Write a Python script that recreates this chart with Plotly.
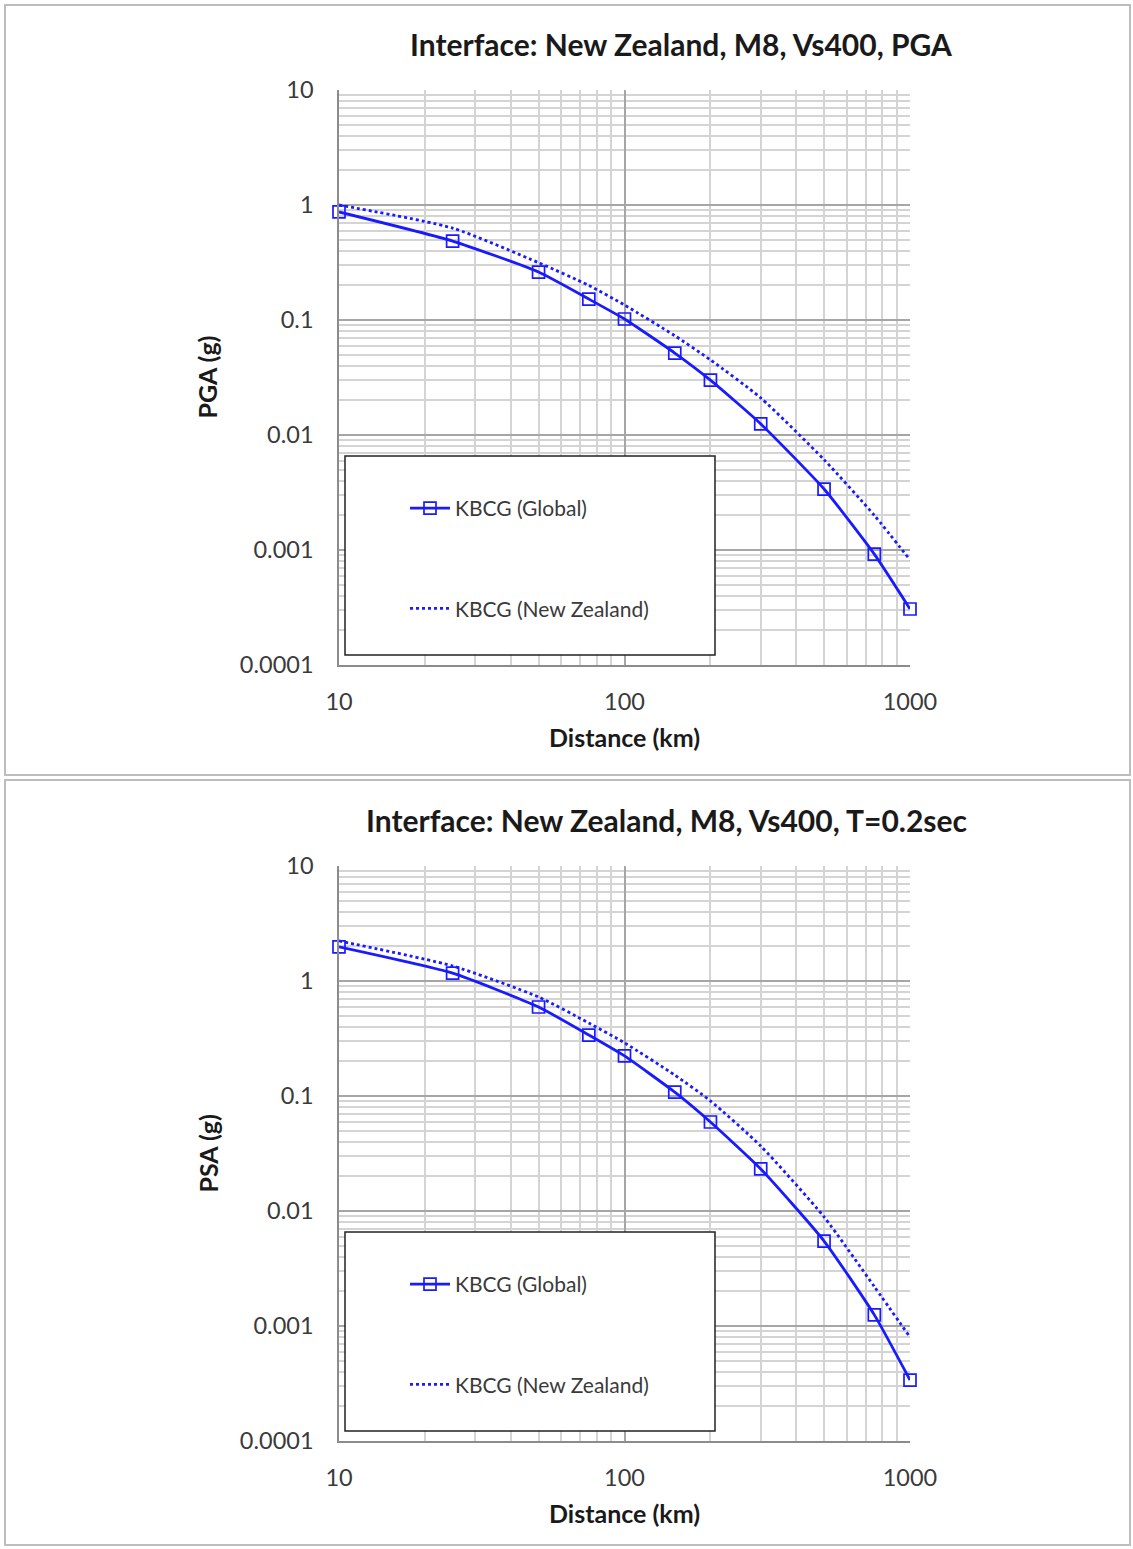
import plotly.graph_objects as go

W, H = 1133, 1549

distance_km = [10, 25, 50, 75, 100, 150, 200, 300, 500, 750, 1000]

pga_global = [0.87, 0.486, 0.261, 0.152, 0.102, 0.0516, 0.030, 0.0125, 0.00339, 0.00092, 0.000307]
pga_nz = [1.0, 0.63, 0.315, 0.20, 0.135, 0.073, 0.045, 0.021, 0.0061, 0.0020, 0.00082]

psa_global = [1.98, 1.17, 0.594, 0.339, 0.223, 0.108, 0.0594, 0.0232, 0.00548, 0.00125, 0.000339]
psa_nz = [2.23, 1.35, 0.726, 0.431, 0.29, 0.152, 0.0906, 0.0367, 0.00887, 0.0022, 0.0008]

titles = ["Interface: New Zealand, M8, Vs400, PGA", "Interface: New Zealand, M8, Vs400, T=0.2sec"]
ylabels = ["PGA (g)", "PSA (g)"]
xlabel = "Distance (km)"
series_names = ["KBCG (Global)", "KBCG (New Zealand)"]

x_ticks = [10, 100, 1000]
x_ticktext = ["10", "100", "1000"]
y_ticks = [0.0001, 0.001, 0.01, 0.1, 1, 10]
y_ticktext = ["0.0001", "0.001", "0.01", "0.1", "1", "10"]

x_minor = [m * 10 ** e for e in (1, 2) for m in range(2, 10)]
y_minor = [m * 10.0 ** e for e in (-4, -3, -2, -1, 0) for m in range(2, 10)]

FONT = "Lato"
BLUE = "#1a1aff"
TXT = "#3a3a3a"

def px_x(p):
    return p / W

def px_y(p):
    return 1 - p / H

fig = go.Figure()

panels = [
    dict(top=90, bottom=665, frame=(5, 5, 1130, 775), title_y=44, xt_y=737,
         leg=(345, 456, 715, 655), leg_y=488, title_x=681),
    dict(top=866, bottom=1441, frame=(5, 780, 1130, 1545), title_y=820, xt_y=1513,
         leg=(345, 1232, 715, 1431), leg_y=1264, title_x=666),
]
x_left, x_right = 339, 910

data_sets = [(pga_global, pga_nz), (psa_global, psa_nz)]

shapes = []
annotations = []
for i, (p, (g, nz)) in enumerate(zip(panels, data_sets)):
    k = "" if i == 0 else str(i + 1)
    leg = "legend" if i == 0 else "legend2"
    fig.add_trace(go.Scatter(
        x=distance_km, y=nz, name=series_names[1], mode="lines",
        line=dict(color=BLUE, width=2.8, dash="dot", shape="spline", smoothing=0.6),
        xaxis="x" + k, yaxis="y" + k, legend=leg, legendgroup=f"g{i}b", legendrank=2))
    fig.add_trace(go.Scatter(
        x=distance_km, y=g, name=series_names[0], mode="lines+markers", cliponaxis=False,
        line=dict(color=BLUE, width=2.8, shape="spline", smoothing=0.5),
        marker=dict(symbol="square-open", size=12, color=BLUE, line=dict(width=1.7, color=BLUE)),
        xaxis="x" + k, yaxis="y" + k, legend=leg, legendgroup=f"g{i}a", legendrank=1))

    ax = dict(
        type="log", range=[1, 3], domain=[px_x(x_left), px_x(x_right)],
        tickvals=x_ticks, ticktext=x_ticktext, showgrid=True, gridcolor="#a6a6a6", gridwidth=1.5,
        minor=dict(tickvals=x_minor, showgrid=True, gridcolor="#d4d4d4", gridwidth=1.5, ticks=""),
        showline=True, linecolor="#8c8c8c", linewidth=1.5, zeroline=False, ticks="",
        ticklabelstandoff=15, tickfont=dict(family=FONT, size=23.5, color=TXT),
        anchor="y" + k, fixedrange=True, automargin=False)
    ay = dict(
        type="log", range=[-4, 1], domain=[px_y(p["bottom"]), px_y(p["top"])],
        tickvals=y_ticks, ticktext=y_ticktext, showgrid=True, gridcolor="#a6a6a6", gridwidth=1.5,
        minor=dict(tickvals=y_minor, showgrid=True, gridcolor="#d4d4d4", gridwidth=1.5, ticks=""),
        showline=True, linecolor="#8c8c8c", linewidth=1.5, zeroline=False, ticks="",
        ticklabelstandoff=19, tickfont=dict(family=FONT, size=23.5, color=TXT),
        anchor="x" + k, fixedrange=True, automargin=False)
    fig.update_layout(**{"xaxis" + k: ax, "yaxis" + k: ay})

    fx0, fy0, fx1, fy1 = p["frame"]
    shapes.append(dict(type="rect", xref="paper", yref="paper",
                       x0=px_x(fx0), x1=px_x(fx1), y0=px_y(fy1), y1=px_y(fy0),
                       line=dict(color="#bdbdbd", width=2), fillcolor="rgba(0,0,0,0)", layer="below"))
    lx0, ly0, lx1, ly1 = p["leg"]
    shapes.append(dict(type="rect", xref="paper", yref="paper",
                       x0=px_x(lx0), x1=px_x(lx1), y0=px_y(ly1), y1=px_y(ly0),
                       line=dict(color="#222222", width=1.5), fillcolor="white", layer="above"))

    annotations.append(dict(text=titles[i], x=px_x(p["title_x"]), y=px_y(p["title_y"]),
                            xref="paper", yref="paper", showarrow=False, xanchor="center", yanchor="middle",
                            font=dict(family=FONT, size=30, color="#1a1a1a", weight="bold")))
    annotations.append(dict(text=xlabel, x=px_x(624), y=px_y(p["xt_y"]),
                            xref="paper", yref="paper", showarrow=False, xanchor="center", yanchor="middle",
                            font=dict(family=FONT, size=25, color="#1a1a1a", weight="bold")))
    annotations.append(dict(text=ylabels[i], x=px_x(207), y=px_y((p["top"] + p["bottom"]) / 2),
                            xref="paper", yref="paper", showarrow=False, xanchor="center", yanchor="middle",
                            textangle=-90,
                            font=dict(family=FONT, size=25, color="#1a1a1a", weight="bold")))

    legend_cfg = dict(x=px_x(405), y=px_y(p["leg_y"]), xanchor="left", yanchor="top",
                      bgcolor="rgba(0,0,0,0)", borderwidth=0, tracegroupgap=70,
                      font=dict(family=FONT, size=21, color=TXT), itemwidth=40)
    fig.update_layout(**{leg: legend_cfg})

fig.update_layout(
    width=W, height=H, margin=dict(l=0, r=0, t=0, b=0, autoexpand=False),
    paper_bgcolor="white", plot_bgcolor="white",
    shapes=shapes, annotations=annotations, showlegend=True,
)

fig.write_html("out.html")
